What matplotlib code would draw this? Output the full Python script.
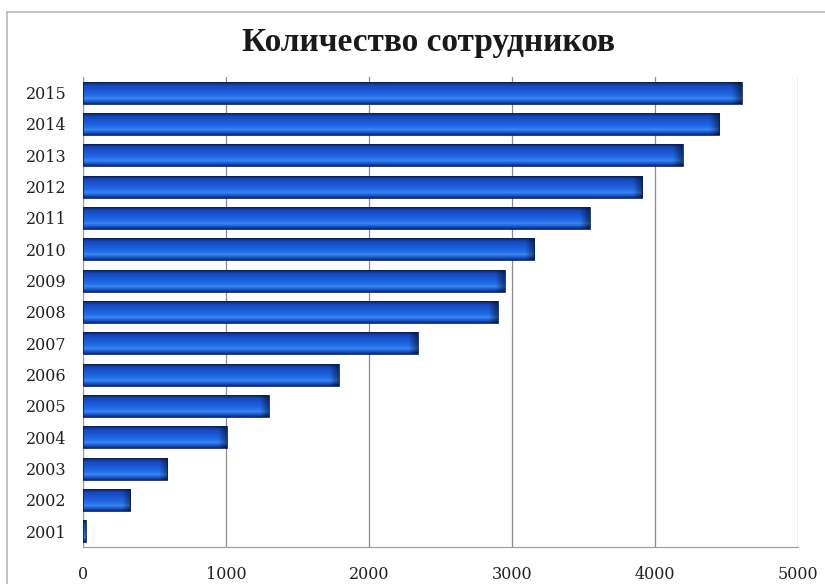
import numpy as np
import matplotlib
matplotlib.use("Agg")
import matplotlib.pyplot as plt
from matplotlib.patches import Rectangle
from matplotlib.colors import LinearSegmentedColormap

years = ["2001", "2002", "2003", "2004", "2005", "2006", "2007", "2008",
         "2009", "2010", "2011", "2012", "2013", "2014", "2015"]
employees = [20, 330, 590, 1005, 1300, 1790, 2340, 2900,
             2950, 3155, 3545, 3910, 4195, 4450, 4605]
x_ticks = [0, 1000, 2000, 3000, 4000, 5000]
title = "Количество сотрудников"

fig = plt.figure(figsize=(8.25, 5.84), dpi=100)
W, H = 825, 584
ax = fig.add_axes([83 / W, (584 - 547) / H, (798 - 83) / W, (547 - 77) / H])

# outer chart frame
fig.patches.append(Rectangle((7 / W, -0.05), 1.0, (584 - 12) / H + 0.05,
                             transform=fig.transFigure, fill=False,
                             edgecolor="#b8b8b8", linewidth=1.2, zorder=0))

cmap = LinearSegmentedColormap.from_list(
    "bevel",
    [(0.0, "#0b2a7a"), (0.10, "#1550c8"), (0.25, "#3a8af4"), (0.36, "#2470e8"),
     (0.6, "#1b5ad8"), (0.85, "#1648b8"), (1.0, "#0a2466")])

bar_h = 0.7
ypos = np.arange(len(years))
ax.barh(ypos, employees, height=bar_h, color="none", edgecolor="none")
grad = np.linspace(1, 0, 64).reshape(-1, 1)
for y, v in zip(ypos, employees):
    ncols = 200
    img = np.repeat(grad, ncols, axis=1)
    rgba = cmap(img)
    # darken the right end (bevel)
    xs = np.linspace(0, v, ncols)
    end_w = min(60, v * 0.5)
    fade = np.clip((v - xs) / max(end_w, 1e-6), 0, 1)
    shade = 0.55 + 0.45 * fade
    rgba[..., :3] *= shade[None, :, None]
    ax.imshow(rgba, extent=(0, v, y - bar_h / 2, y + bar_h / 2),
              aspect="auto", interpolation="bilinear", zorder=3)
    ax.add_patch(Rectangle((0, y - bar_h / 2), v, bar_h, fill=False,
                           edgecolor="#0a1f55", linewidth=0.6, zorder=4))

ax.set_xlim(0, 5000)
ax.set_ylim(-0.5, len(years) - 0.5)
ax.set_xticks(x_ticks)
ax.set_xticklabels([str(t) for t in x_ticks], fontfamily="DejaVu Serif",
                   fontsize=11.5, color="#222222")
ax.set_yticks(ypos)
ax.set_yticklabels(years, fontfamily="DejaVu Serif", fontsize=11.5, color="#222222")
ax.tick_params(axis="x", length=0, pad=14)
ax.tick_params(axis="y", length=0, pad=12)
ax.grid(axis="x", color="#8c8c8c", linewidth=0.9, zorder=0)
ax.set_axisbelow(True)
for s in ["top", "right"]:
    ax.spines[s].set_visible(False)
ax.spines["left"].set_color("#9a9a9a")
ax.spines["bottom"].set_color("#9a9a9a")

fig.text(428 / W, 1 - 43 / H, title, ha="center", va="center",
         fontfamily="Liberation Serif", fontweight="bold", fontsize=24,
         color="#1a1a1a")

fig.savefig("out.png", dpi=100)
